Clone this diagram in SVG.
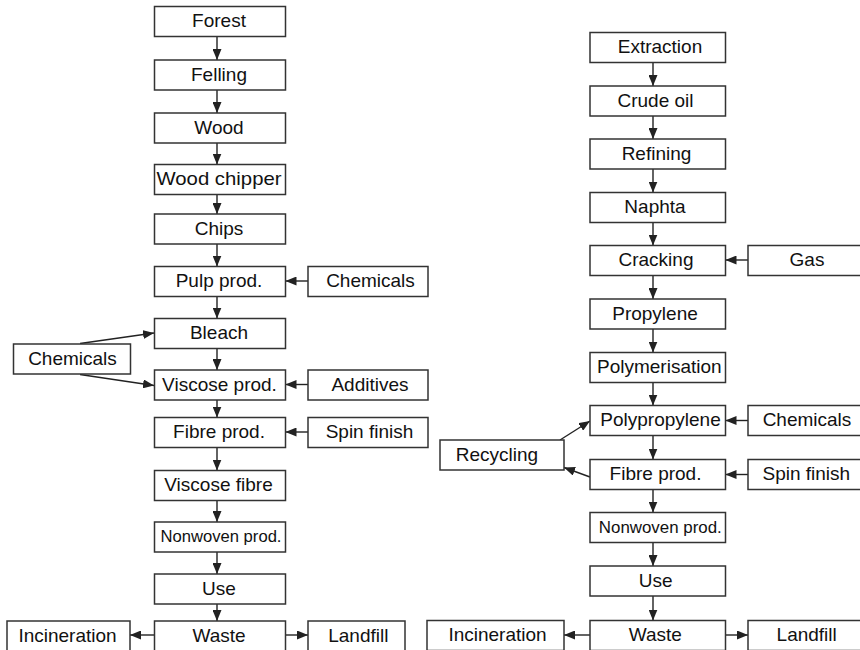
<svg xmlns="http://www.w3.org/2000/svg" width="860" height="650" viewBox="0 0 860 650">
<defs>
<marker id="ah" markerUnits="userSpaceOnUse" markerWidth="11" markerHeight="9" refX="11" refY="4.5" orient="auto">
<path d="M0,0 L11,4.5 L0,9 z" fill="#222"/>
</marker>
<style>
rect{fill:#fff;stroke:#333;stroke-width:1.5}
text{font-family:"Liberation Sans",Arial,sans-serif;font-size:19px;fill:#111;text-anchor:middle}
.s{font-size:17px}
#connectors line{stroke:#222;stroke-width:1.4;marker-end:url(#ah)}
</style>
</defs>
<rect x="0" y="0" width="860" height="650" style="fill:#fff;stroke:none"/>
<g id="connectors">
<line x1="217" y1="36.5" x2="217" y2="60"/>
<line x1="217" y1="90" x2="217" y2="113"/>
<line x1="217" y1="143" x2="217" y2="164.5"/>
<line x1="217" y1="194.5" x2="217" y2="214"/>
<line x1="217" y1="244" x2="217" y2="266.5"/>
<line x1="217" y1="296.5" x2="217" y2="318.5"/>
<line x1="217" y1="348.5" x2="217" y2="370"/>
<line x1="217" y1="400" x2="217" y2="417.5"/>
<line x1="217" y1="447.5" x2="217" y2="470.5"/>
<line x1="217" y1="500.5" x2="217" y2="522"/>
<line x1="217" y1="552" x2="217" y2="574"/>
<line x1="217" y1="604" x2="217" y2="621"/>
<line x1="308" y1="281" x2="285.5" y2="281"/>
<line x1="308" y1="384.5" x2="285.5" y2="384.5"/>
<line x1="308" y1="432" x2="285.5" y2="432"/>
<line x1="154.5" y1="635" x2="130" y2="635"/>
<line x1="285.5" y1="635" x2="308" y2="635"/>
<line x1="80" y1="343.5" x2="154" y2="333"/>
<line x1="80" y1="374.5" x2="154" y2="385.5"/>
<line x1="653" y1="62.5" x2="653" y2="86"/>
<line x1="653" y1="116" x2="653" y2="139"/>
<line x1="653" y1="169" x2="653" y2="192.5"/>
<line x1="653" y1="222.5" x2="653" y2="245.5"/>
<line x1="653" y1="275.5" x2="653" y2="299"/>
<line x1="653" y1="329" x2="653" y2="352.5"/>
<line x1="653" y1="382.5" x2="653" y2="405.5"/>
<line x1="653" y1="435.5" x2="653" y2="459.5"/>
<line x1="653" y1="489.5" x2="653" y2="512.5"/>
<line x1="653" y1="542.5" x2="653" y2="566"/>
<line x1="653" y1="596" x2="653" y2="620.5"/>
<line x1="748" y1="260" x2="725.5" y2="260"/>
<line x1="748" y1="420.5" x2="725.5" y2="420.5"/>
<line x1="748" y1="474.5" x2="725.5" y2="474.5"/>
<line x1="590" y1="635" x2="564" y2="635"/>
<line x1="725.5" y1="635" x2="748" y2="635"/>
<line x1="560" y1="440" x2="590" y2="421"/>
<line x1="590" y1="477" x2="564" y2="467.5"/>
</g>
<g id="forest"><rect x="154.5" y="6.5" width="131" height="30"/><text x="219" y="27">Forest</text></g>
<g id="felling"><rect x="154.5" y="60" width="131" height="30"/><text x="219" y="80.5">Felling</text></g>
<g id="wood"><rect x="154.5" y="113" width="131" height="30"/><text x="219" y="133.5">Wood</text></g>
<g id="woodchipper"><rect x="154.5" y="164.5" width="131" height="30"/><text x="219" y="185" textLength="125" lengthAdjust="spacingAndGlyphs">Wood chipper</text></g>
<g id="chips"><rect x="154.5" y="214" width="131" height="30"/><text x="219" y="234.5">Chips</text></g>
<g id="pulpprod"><rect x="154.5" y="266.5" width="131" height="30"/><text x="219" y="287">Pulp prod.</text></g>
<g id="bleach"><rect x="154.5" y="318.5" width="131" height="30"/><text x="219" y="339">Bleach</text></g>
<g id="viscoseprod"><rect x="154.5" y="370" width="131" height="30"/><text x="219.5" y="390.5">Viscose prod.</text></g>
<g id="fibreprod1"><rect x="154.5" y="417.5" width="131" height="30"/><text x="219" y="438">Fibre prod.</text></g>
<g id="viscosefibre"><rect x="154.5" y="470.5" width="131" height="30"/><text x="218.5" y="491">Viscose fibre</text></g>
<g id="nonwoven1"><rect x="154.5" y="522" width="131" height="30"/><text class="s" x="221" y="542" textLength="121" lengthAdjust="spacingAndGlyphs">Nonwoven prod.</text></g>
<g id="use1"><rect x="154.5" y="574" width="131" height="30"/><text x="219" y="594.5">Use</text></g>
<g id="waste1"><rect x="154.5" y="621" width="131" height="30"/><text x="219" y="641.5">Waste</text></g>
<g id="chemicals1"><rect x="308" y="266.5" width="120" height="30"/><text x="370.5" y="287">Chemicals</text></g>
<g id="additives"><rect x="308" y="370" width="120" height="30"/><text x="370" y="390.5">Additives</text></g>
<g id="spinfinish1"><rect x="308" y="417.5" width="120" height="30"/><text x="369.5" y="438">Spin finish</text></g>
<g id="chemicals2"><rect x="13.5" y="344" width="117" height="30"/><text x="72.5" y="364.5">Chemicals</text></g>
<g id="incineration1"><rect x="7" y="621" width="123" height="30"/><text x="67.5" y="641.5">Incineration</text></g>
<g id="landfill1"><rect x="308" y="621" width="97" height="30"/><text x="358.3" y="641.5">Landfill</text></g>
<g id="extraction"><rect x="590" y="32.5" width="135.5" height="30"/><text x="660" y="53">Extraction</text></g>
<g id="crudeoil"><rect x="590" y="86" width="135.5" height="30"/><text x="655.5" y="106.5">Crude oil</text></g>
<g id="refining"><rect x="590" y="139" width="135.5" height="30"/><text x="656.5" y="159.5">Refining</text></g>
<g id="naphta"><rect x="590" y="192.5" width="135.5" height="30"/><text x="655" y="213">Naphta</text></g>
<g id="cracking"><rect x="590" y="245.5" width="135.5" height="30"/><text x="656" y="266">Cracking</text></g>
<g id="propylene"><rect x="590" y="299" width="135.5" height="30"/><text x="655" y="319.5">Propylene</text></g>
<g id="polymerisation"><rect x="590" y="352.5" width="135.5" height="30"/><text x="659.3" y="373">Polymerisation</text></g>
<g id="polypropylene"><rect x="590" y="405.5" width="135.5" height="30"/><text x="660.5" y="426">Polypropylene</text></g>
<g id="fibreprod2"><rect x="590" y="459.5" width="135.5" height="30"/><text x="655.5" y="480">Fibre prod.</text></g>
<g id="nonwoven2"><rect x="590" y="512.5" width="135.5" height="30"/><text class="s" x="660.3" y="532.5" textLength="123" lengthAdjust="spacingAndGlyphs">Nonwoven prod.</text></g>
<g id="use2"><rect x="590" y="566" width="135.5" height="30"/><text x="655.7" y="586.5">Use</text></g>
<g id="waste2"><rect x="590" y="620.5" width="135.5" height="30"/><text x="655.3" y="641">Waste</text></g>
<g id="gas"><rect x="748" y="245.5" width="117" height="30"/><text x="807" y="266">Gas</text></g>
<g id="chemicals3"><rect x="748" y="405.5" width="117" height="30"/><text x="807" y="426">Chemicals</text></g>
<g id="spinfinish2"><rect x="748" y="459.5" width="117" height="30"/><text x="806.3" y="480">Spin finish</text></g>
<g id="landfill2"><rect x="748" y="620.5" width="117" height="30"/><text x="806.7" y="641">Landfill</text></g>
<g id="incineration2"><rect x="427" y="620.5" width="137" height="30"/><text x="497.5" y="641">Incineration</text></g>
<g id="recycling"><rect x="440" y="440" width="124" height="30"/><text x="497" y="460.5">Recycling</text></g>
</svg>
